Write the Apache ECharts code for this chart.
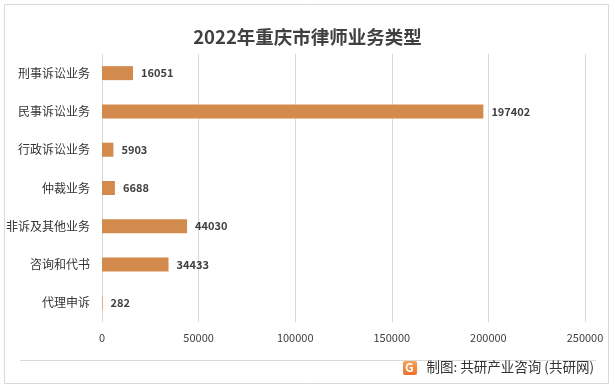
<!DOCTYPE html>
<html><head><meta charset="utf-8">
<script src="https://cdn.jsdelivr.net/npm/echarts@6/dist/echarts.min.js"></script>
<style>html,body{margin:0;padding:0;background:#fff}#c{width:615px;height:388px}</style>
</head><body><div id="c"></div>
<script>
const categories = ['刑事诉讼业务','民事诉讼业务','行政诉讼业务','仲裁业务','非诉及其他业务','咨询和代书','代理申诉'];
const values = [16051,197402,5903,6688,44030,34433,282];
const titleText = '2022年重庆市律师业务类型';
const sourceText = '制图: 共研产业咨询 (共研网)';

const chart = echarts.init(document.getElementById('c'));
const font = '"Microsoft YaHei","Noto Sans CJK SC",sans-serif';
chart.setOption({
  animation: false,
  backgroundColor: '#fff',
  title: {text: titleText, left: 'center', top: 23,
    textStyle: {fontSize: 18.5, fontWeight: 'bold', color: '#404040', fontFamily: font}},
  grid: {left: 102, right: 30, top: 54, bottom: 66, containLabel: false},
  xAxis: {type: 'value', min: 0, max: 250000, interval: 50000,
    axisLine: {show: false}, axisTick: {show: false},
    splitLine: {lineStyle: {color: '#d9d9d9', width: 1}},
    axisLabel: {color: '#404040', fontSize: 11, margin: 10, fontFamily: font,
      formatter: v => String(v)}},
  yAxis: {type: 'category', data: categories, inverse: true,
    axisLine: {show: false}, axisTick: {show: false},
    axisLabel: {color: '#333', fontSize: 12, margin: 12, fontFamily: font}},
  series: [{type: 'bar', data: values, barWidth: 14,
    itemStyle: {color: '#d38b4d'},
    label: {show: true, position: 'right', distance: 8, color: '#404040',
      fontWeight: 'bold', fontSize: 11, fontFamily: font}}],
  graphic: [
    {type: 'rect', shape: {x: 4.5, y: 4.5, width: 604, height: 379},
      style: {fill: null, stroke: '#d9d9d9', lineWidth: 1}, silent: true},
    {type: 'line', shape: {x1: 20, y1: 360.5, x2: 596, y2: 360.5},
      style: {stroke: '#d9d9d9', lineWidth: 1}},
    {type: 'rect', shape: {x: 403, y: 361, width: 14, height: 14, r: 2},
      style: {fill: new echarts.graphic.LinearGradient(0, 0, 0, 1, [
        {offset: 0, color: '#f6a25a'}, {offset: 1, color: '#ee6f2d'}])}},
    {type: 'text', left: 405, top: 361,
      style: {text: 'G', fill: '#fff', fontSize: 12, fontWeight: 'bold', fontFamily: font}},
    {type: 'text', right: 21, top: 360,
      style: {text: sourceText, fill: '#333', fontSize: 13.5, fontFamily: font}}
  ]
});
</script></body></html>
